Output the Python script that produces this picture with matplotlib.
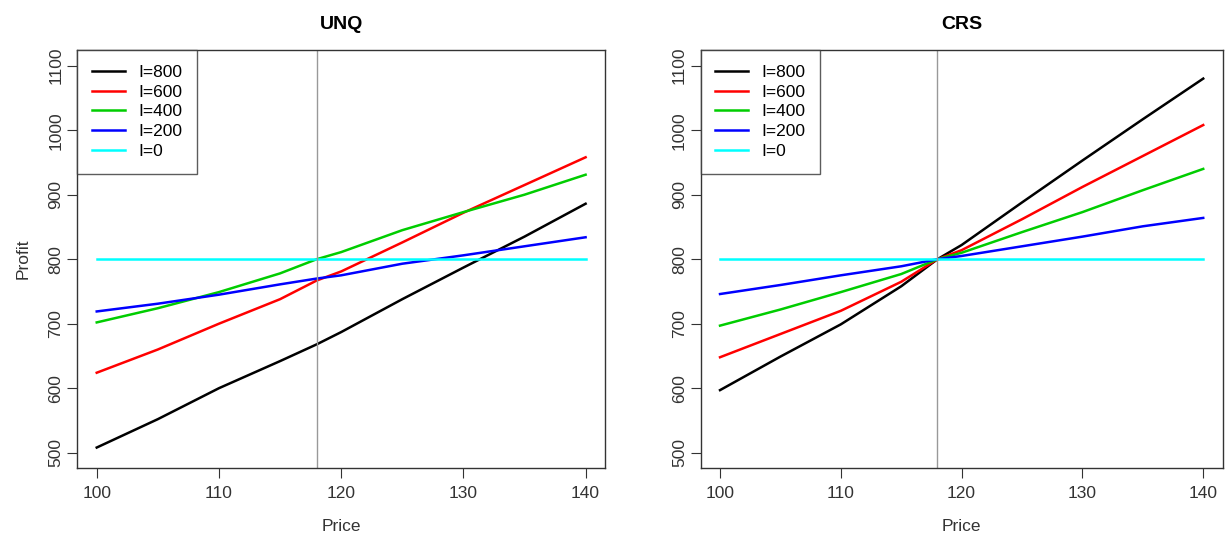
import numpy as np
import matplotlib
matplotlib.use("Agg")
import matplotlib.pyplot as plt

plt.rcParams['font.family'] = ['Liberation Sans', 'DejaVu Sans']

# price grid
price = [100, 105, 110, 115, 118, 120, 125, 130, 135, 140]
levels = ['I=800', 'I=600', 'I=400', 'I=200', 'I=0']
colors = ['#000000', '#FF0000', '#00CD00', '#0000FF', '#00FFFF']

unq_800 = [508, 552, 600, 642, 668, 687, 738, 787, 835, 886]
unq_600 = [624, 660, 700, 738, 767, 781, 826, 872, 915, 958]
unq_400 = [702, 724, 749, 778, 800, 811, 845, 873, 900, 931]
unq_200 = [719, 731, 745, 761, 770, 775, 793, 806, 820, 834]
unq_0 = [800, 800, 800, 800, 800, 800, 800, 800, 800, 800]

crs_800 = [597, 649, 699, 758, 800, 822, 888, 953, 1017, 1080]
crs_600 = [648, 684, 720, 765, 800, 814, 862, 912, 960, 1008]
crs_400 = [697, 722, 749, 777, 800, 810, 842, 873, 907, 940]
crs_200 = [746, 760, 775, 789, 800, 805, 820, 835, 851, 864]
crs_0 = [800, 800, 800, 800, 800, 800, 800, 800, 800, 800]

p_star = 118

fig = plt.figure(figsize=(12.25, 5.4), dpi=100)
ax1 = fig.add_axes([0.063, 0.133, 0.431, 0.774])
ax2 = fig.add_axes([0.572, 0.133, 0.426, 0.774])


def panel(ax, title, series, ylabel=None):
  for vals, col, lab in zip(series, colors, levels):
    ax.plot(price, vals, color=col, lw=1.8, label=lab)
  ax.axvline(p_star, color='#999999', lw=1)
  ax.set_xlim(98.4, 141.6)
  ax.set_ylim(476, 1124)
  ax.set_xticks([100, 110, 120, 130, 140])
  ax.set_yticks(range(500, 1101, 100))
  ax.set_yticklabels([str(v) for v in range(500, 1101, 100)], rotation=90, va='center')
  ax.tick_params(direction='out', length=7, labelsize=12.5, colors='#333333')
  ax.tick_params(axis='x', pad=6)
  ax.tick_params(axis='y', pad=3)
  for s in ax.spines.values():
    s.set_color('#333333')
    s.set_linewidth(1)
  ax.set_title(title, fontsize=14, fontweight='bold', pad=15)
  ax.set_xlabel('Price', fontsize=12.5, labelpad=13, color='#333333')
  if ylabel:
    ax.set_ylabel(ylabel, fontsize=12.5, labelpad=13, color='#333333')
  leg = ax.legend(loc='upper left', bbox_to_anchor=(0, 1), borderaxespad=0,
                  fancybox=False, edgecolor='#333333', fontsize=12.5,
                  handlelength=1.9, handletextpad=0.75, labelspacing=0.26,
                  borderpad=0.85)
  leg.get_frame().set_linewidth(1)


panel(ax1, 'UNQ', [unq_800, unq_600, unq_400, unq_200, unq_0], ylabel='Profit')
panel(ax2, 'CRS', [crs_800, crs_600, crs_400, crs_200, crs_0])

fig.savefig('out.png', dpi=100)
